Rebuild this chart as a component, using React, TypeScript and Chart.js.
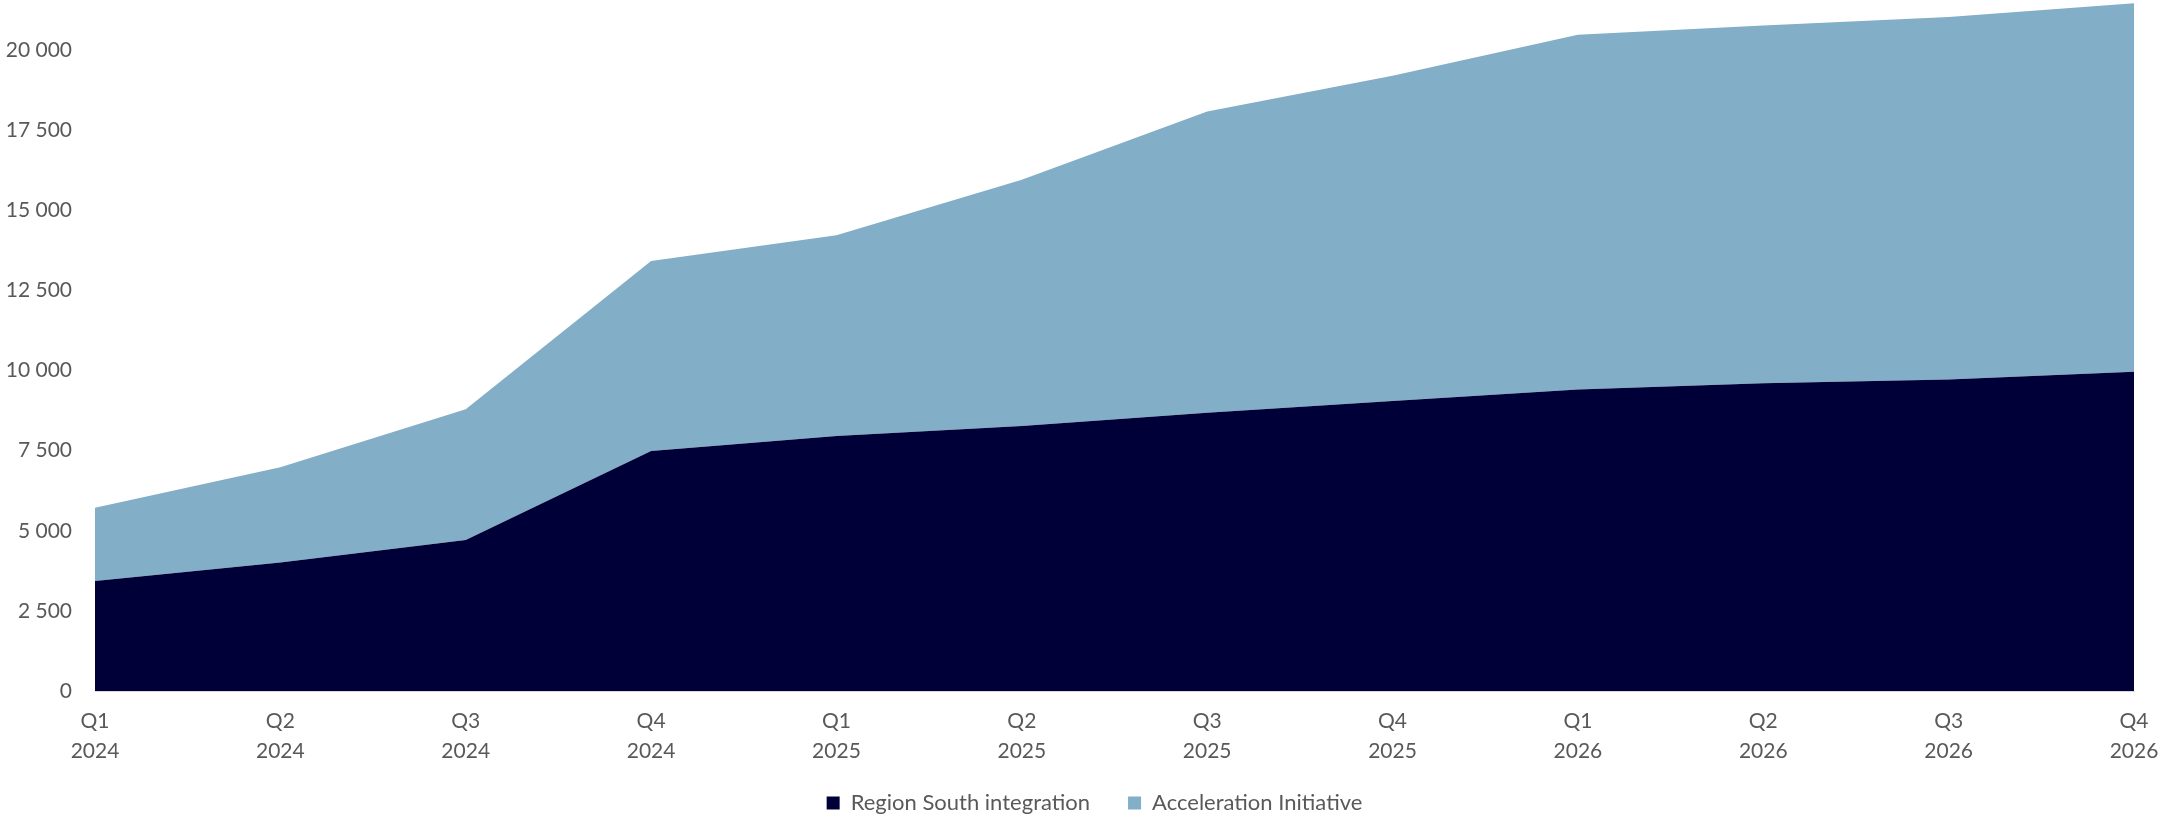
import React, { useEffect, useRef } from "react";
import { Chart, registerables } from "chart.js";

Chart.register(...registerables);

const quarters = ["Q1", "Q2", "Q3", "Q4", "Q1", "Q2", "Q3", "Q4", "Q1", "Q2", "Q3", "Q4"];
const years = ["2024", "2024", "2024", "2024", "2025", "2025", "2025", "2025", "2026", "2026", "2026", "2026"];
const regionSouth = [3430, 4010, 4710, 7490, 7960, 8270, 8680, 9050, 9410, 9600, 9720, 9960];
const acceleration = [2290, 2970, 4080, 5930, 6260, 7680, 9400, 10150, 11070, 11170, 11310, 11500];
const seriesNames = ["Region South integration", "Acceleration Initiative"];
const seriesColors = ["#000038", "#82AEC7"];
const yTicks = [0, 2500, 5000, 7500, 10000, 12500, 15000, 17500, 20000];
const yMax = 21500;

const fmt = (v: number) => String(v).replace(/\B(?=(\d{3})+(?!\d))/g, " ");

const W = 2161;
const H = 822;

const layoutPlugin = {
  id: "layoutTweaks",
  beforeInit(chart: any) {
    const legend = chart.legend;
    if (legend) {
      const origFit = legend.fit.bind(legend);
      legend.fit = function () {
        origFit();
        this.height = 56;
      };
    }
  },
  beforeDraw(chart: any) {
    const legend = chart.legend;
    if (legend) {
      legend.left = 28;
      legend.right = W;
      legend.width = W - 28;
      legend.top = 754;
      legend.bottom = H;
      legend.height = H - 754;
    }
  },
};

export default function App() {
  const ref = useRef<HTMLCanvasElement | null>(null);
  useEffect(() => {
    document.body.style.margin = "0";
    const ctx = ref.current!;
    const chart = new Chart(ctx, {
      type: "line",
      data: {
        labels: quarters.map((q, i) => [q, years[i]]),
        datasets: [
          {
            label: seriesNames[0],
            data: regionSouth,
            backgroundColor: seriesColors[0],
            borderColor: seriesColors[0],
            borderWidth: 0,
            fill: "origin",
            pointRadius: 0,
            tension: 0,
          },
          {
            label: seriesNames[1],
            data: acceleration,
            backgroundColor: seriesColors[1],
            borderColor: seriesColors[1],
            borderWidth: 0,
            fill: "-1",
            pointRadius: 0,
            tension: 0,
          },
        ],
      },
      plugins: [layoutPlugin],
      options: {
        animation: false,
        responsive: false,
        maintainAspectRatio: false,
        layout: { padding: { top: 2, left: 0, right: 0, bottom: 0 } },
        plugins: {
          tooltip: { enabled: false },
          legend: {
            position: "bottom",
            labels: {
              boxWidth: 13,
              boxHeight: 13,
              padding: 38,
              color: "#595959",
              font: { family: "Lato", size: 22 },
            },
          },
        },
        scales: {
          x: {
            grid: { display: false, drawTicks: false },
            border: { display: true, color: "#D9D9D9", width: 1 },
            ticks: {
              color: "#595959",
              font: { family: "Lato", size: 21, lineHeight: 1.43 },
              padding: 15,
              maxRotation: 0,
              autoSkip: false,
            },
            afterFit: (scale: any) => {
              scale.height = 75;
              scale.paddingLeft = 0;
              scale.paddingRight = 27;
            },
          },
          y: {
            stacked: true,
            min: 0,
            max: yMax,
            grid: { display: false, drawTicks: false },
            border: { display: false },
            afterBuildTicks: (scale: any) => {
              scale.ticks = yTicks.map((v) => ({ value: v }));
            },
            ticks: {
              color: "#595959",
              font: { family: "Lato", size: 21 },
              padding: 23,
              autoSkip: false,
              callback: (v: any) => fmt(Number(v)),
            },
            afterFit: (scale: any) => {
              scale.width = 95;
              scale.paddingTop = 0;
              scale.paddingBottom = 0;
            },
          },
        },
      },
    });
    return () => chart.destroy();
  }, []);
  return <canvas ref={ref} width={W} height={H} style={{ display: "block" }} />;
}
